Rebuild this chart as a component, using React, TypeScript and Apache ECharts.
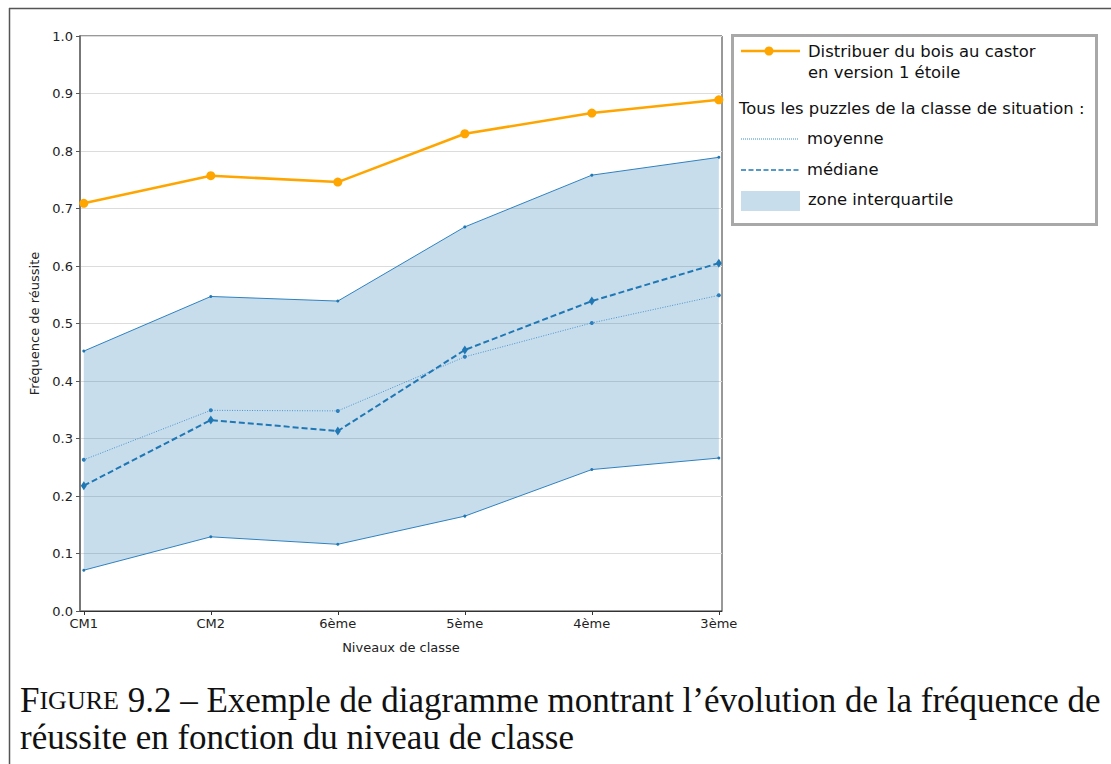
import React, { useEffect, useRef } from "react";
import * as echarts from "echarts";

const categories = ["CM1", "CM2", "6ème", "5ème", "4ème", "3ème"];
const castor = [0.709, 0.757, 0.746, 0.830, 0.866, 0.889];
const q3 = [0.452, 0.547, 0.539, 0.668, 0.758, 0.789];
const q1 = [0.071, 0.129, 0.116, 0.165, 0.246, 0.266];
const mean = [0.263, 0.349, 0.348, 0.442, 0.501, 0.549];
const median = [0.218, 0.332, 0.313, 0.454, 0.539, 0.605];
const xTickValues = [0, 1, 2, 3, 4, 5];

const SANS = '"DejaVu Sans", sans-serif';
const SERIF = '"Liberation Serif", "DejaVu Serif", serif';
const BLUE = "#1f77b4";
const ORANGE = "#ffa500";
const LEG_FONT = `16.4px ${SANS}`;

const toPts = (arr: number[]) => arr.map((v, i) => [i, v]);

export default function App() {
  const ref = useRef<HTMLDivElement>(null);
  useEffect(() => {
    if (!ref.current) return;
    const chart = echarts.init(ref.current, null, { renderer: "svg" });
    const lx = 741;
    const legText = (text: string, x: number, y: number) => ({
      type: "text",
      z: 11,
      style: { text, x, y, font: LEG_FONT, fill: "#111", verticalAlign: "middle", textVerticalAlign: "middle" },
    });
    const option: any = {
      animation: false,
      backgroundColor: "#fff",
      grid: {
        left: 80,
        right: 1111 - 722,
        top: 36,
        bottom: 764 - 611,
        show: true,
        borderColor: "#333",
        borderWidth: 1,
      },
      xAxis: {
        type: "value",
        min: -0.03,
        max: 5.025,
        name: "Niveaux de classe",
        nameLocation: "middle",
        nameGap: 30,
        nameTextStyle: { fontFamily: SANS, fontSize: 13, color: "#222" },
        axisLine: { show: true, onZero: false, lineStyle: { color: "#333", width: 1 } },
        axisTick: { show: true, length: 4, customValues: xTickValues, lineStyle: { color: "#333" } },
        axisLabel: {
          customValues: xTickValues,
          formatter: (v: number) => categories[Math.round(v)] ?? "",
          fontFamily: SANS,
          fontSize: 13,
          color: "#222",
          margin: 6,
        },
        splitLine: { show: false },
      },
      yAxis: {
        type: "value",
        min: 0,
        max: 1,
        interval: 0.1,
        name: "Fréquence de réussite",
        nameLocation: "middle",
        nameGap: 36,
        nameTextStyle: { fontFamily: SANS, fontSize: 13, color: "#222" },
        axisLine: { show: true, onZero: false, lineStyle: { color: "#777", width: 2 } },
        axisTick: { show: true, length: 4, lineStyle: { color: "#555" } },
        axisLabel: {
          formatter: (v: number) => v.toFixed(1),
          fontFamily: SANS,
          fontSize: 13,
          color: "#222",
          margin: 7,
        },
        splitLine: { show: true, lineStyle: { color: "#dcdcdc", width: 1 } },
      },
      series: [
        {
          type: "custom",
          name: "zone interquartile",
          data: q1.map((v, i) => [i, v, q3[i]]),
          z: 1,
          clip: false,
          renderItem: (params: any, api: any) => {
            if (params.dataIndex !== 0) return null;
            const top = q3.map((v, i) => api.coord([i, v]));
            const bottom = q1.map((v, i) => api.coord([i, v])).reverse();
            return {
              type: "polygon",
              shape: { points: top.concat(bottom) },
              style: { fill: "rgba(31,119,180,0.25)", stroke: "none" },
            };
          },
        },
        {
          type: "line",
          name: "q3",
          data: toPts(q3),
          z: 3,
          clip: false,
          symbol: "circle",
          symbolSize: 3,
          itemStyle: { color: BLUE },
          lineStyle: { color: "#2f82c0", width: 1 },
        },
        {
          type: "line",
          name: "q1",
          data: toPts(q1),
          z: 3,
          clip: false,
          symbol: "circle",
          symbolSize: 3,
          itemStyle: { color: BLUE },
          lineStyle: { color: "#2f82c0", width: 1 },
        },
        {
          type: "line",
          name: "moyenne",
          data: toPts(mean),
          z: 4,
          clip: false,
          symbol: "circle",
          symbolSize: 4,
          itemStyle: { color: "#2c7fbd" },
          lineStyle: { color: "#4a95cf", width: 1, type: [1, 1.5] },
        },
        {
          type: "line",
          name: "médiane",
          data: toPts(median),
          z: 5,
          clip: false,
          symbol: "diamond",
          symbolSize: [6, 9],
          itemStyle: { color: BLUE },
          lineStyle: { color: BLUE, width: 2, type: [6, 3] },
        },
        {
          type: "line",
          name: "Distribuer du bois au castor en version 1 étoile",
          data: toPts(castor),
          z: 6,
          clip: false,
          symbol: "circle",
          symbolSize: 9,
          itemStyle: { color: ORANGE },
          lineStyle: { color: ORANGE, width: 2.5 },
        },
      ],
      graphic: [
        { type: "line", shape: { x1: 9, y1: 8.5, x2: 1111, y2: 8.5 }, style: { stroke: "#555", lineWidth: 1.5 } },
        { type: "line", shape: { x1: 9.5, y1: 8, x2: 9.5, y2: 764 }, style: { stroke: "#555", lineWidth: 1.5 } },
        {
          type: "rect",
          shape: { x: 732.5, y: 35.5, width: 364, height: 189 },
          style: { fill: "#fff", stroke: "#a8a8a8", lineWidth: 3 },
          z: 10,
        },
        { type: "line", z: 11, shape: { x1: lx, y1: 51, x2: lx + 59, y2: 51 }, style: { stroke: ORANGE, lineWidth: 2.5 } },
        { type: "circle", z: 11, shape: { cx: lx + 28, cy: 51, r: 4.5 }, style: { fill: ORANGE } },
        legText("Distribuer du bois au castor", 808, 51),
        legText("en version 1 étoile", 808, 72),
        legText("Tous les puzzles de la classe de situation :", 739, 108),
        { type: "line", z: 11, shape: { x1: lx, y1: 139, x2: lx + 58, y2: 139 }, style: { stroke: "#3b8bc8", lineWidth: 1, lineDash: [1, 1] } },
        legText("moyenne", 807, 138),
        { type: "line", z: 11, shape: { x1: lx, y1: 170, x2: lx + 58, y2: 170 }, style: { stroke: BLUE, lineWidth: 1.5, lineDash: [5, 2.5] } },
        legText("médiane", 807, 169),
        { type: "rect", z: 11, shape: { x: lx, y: 191, width: 59, height: 20 }, style: { fill: "rgba(31,119,180,0.25)" } },
        legText("zone interquartile", 808, 199),
        {
          type: "text",
          z: 11,
          style: {
            text: "{a|F}{b|IGURE} 9.2 – Exemple de diagramme montrant l’évolution de la fréquence de",
            x: 20,
            y: 718,
            font: `35px ${SERIF}`,
            fill: "#111",
            verticalAlign: "bottom",
            textVerticalAlign: "bottom",
            rich: {
              a: { fontSize: 35, fontFamily: SERIF, fill: "#111" },
              b: { fontSize: 26, fontFamily: SERIF, fill: "#111" },
            },
          },
        },
        {
          type: "text",
          z: 11,
          style: {
            text: "réussite en fonction du niveau de classe",
            x: 20,
            y: 755,
            font: `35px ${SERIF}`,
            fill: "#111",
            verticalAlign: "bottom",
            textVerticalAlign: "bottom",
          },
        },
      ],
    };
    chart.setOption(option);
    return () => chart.dispose();
  }, []);
  return (
    <div
      ref={ref}
      style={{ position: "fixed", left: 0, top: 0, width: 1111, height: 764, background: "#fff" }}
    />
  );
}
